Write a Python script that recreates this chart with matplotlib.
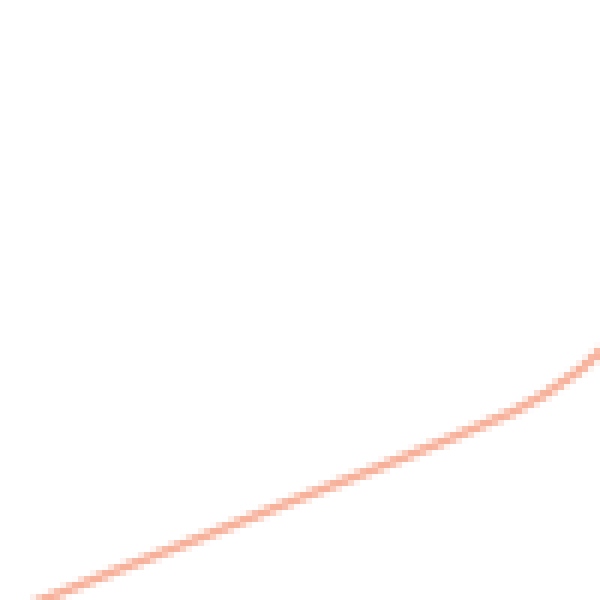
import matplotlib
matplotlib.use("Agg")
import matplotlib.pyplot as plt
import numpy as np

# curve values (x across, y up)
x_vals = [30, 100, 200, 300, 380, 447, 513, 547, 580, 600, 615]
y_vals = [-5, 23, 62, 102, 133, 160, 188, 207, 230, 248, 262]

line_color = '#f6a287'

# draw small, then blow up with nearest-neighbour to get the blocky look
small_px = 100
scale = 6

fig = plt.figure(figsize=(1, 1), dpi=small_px)
ax = fig.add_axes([0, 0, 1, 1])
ax.plot(x_vals, y_vals, color=line_color, linewidth=1.1, alpha=0.85,
        solid_capstyle='butt')
ax.set_xlim(0, 600)
ax.set_ylim(0, 600)
ax.axis('off')

fig.canvas.draw()
buf = np.asarray(fig.canvas.buffer_rgba())[:, :, :3]
big = buf.repeat(scale, axis=0).repeat(scale, axis=1)
plt.imsave('out.png', big)
